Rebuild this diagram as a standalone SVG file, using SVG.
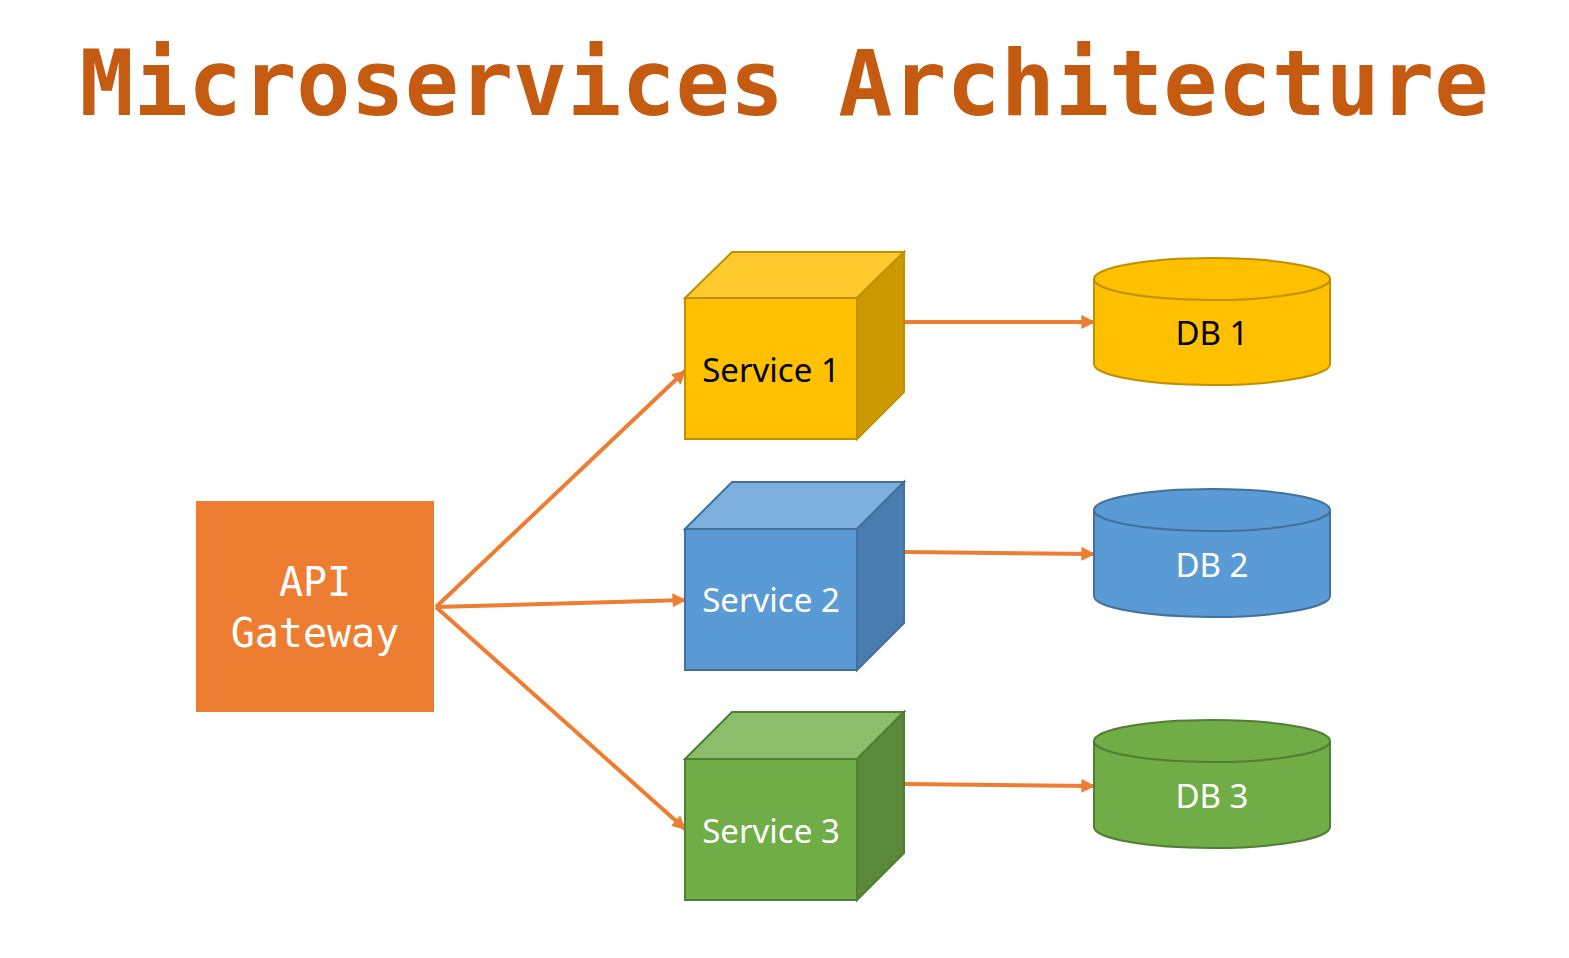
<svg xmlns="http://www.w3.org/2000/svg" width="1569" height="958" viewBox="0 0 1569 958">
<defs>
<style>
.title{font-family:"DejaVu Sans Mono",monospace;font-weight:bold;font-size:90px;fill:#C55A11}
.gw{font-family:"DejaVu Sans Mono",monospace;font-size:40px;fill:#fff}
.lbl{font-family:"Noto Sans","Open Sans",sans-serif;font-size:33px}
.conn{stroke:#ED7D31;stroke-width:4;fill:none;marker-end:url(#ah)}
</style>
<marker id="ah" viewBox="0 0 10 10" refX="9" refY="5" markerWidth="3.5" markerHeight="3.5" orient="auto" markerUnits="strokeWidth">
<path d="M0,0 L10,5 L0,10 z" fill="#ED7D31"/>
</marker>
</defs>
<rect width="1569" height="958" fill="#fff"/>
<text class="title" x="784" y="115" text-anchor="middle">Microservices Architecture</text>

<g id="connectors">
<line class="conn" x1="436" y1="607" x2="685" y2="371"/>
<line class="conn" x1="436" y1="607" x2="685" y2="600"/>
<line class="conn" x1="436" y1="607" x2="685" y2="829"/>
<line class="conn" x1="905" y1="322" x2="1094" y2="322"/>
<line class="conn" x1="905" y1="552" x2="1094" y2="554"/>
<line class="conn" x1="905" y1="784" x2="1094" y2="786"/>
</g>

<g id="api-gateway">
<rect x="196" y="501" width="238" height="211" fill="#ED7D31"/>
<text class="gw" x="315" y="596" text-anchor="middle">API</text>
<text class="gw" x="315" y="647" text-anchor="middle">Gateway</text>
</g>

<g id="service1" stroke="#BF9000" stroke-width="2" stroke-linejoin="miter">
<polygon points="685,298 732,252 904,252 857,298" fill="#FFCA2E"/>
<polygon points="857,298 904,252 904,392 857,439" fill="#CC9A00"/>
<rect x="685" y="298" width="172" height="141" fill="#FFC000"/>
<text class="lbl" x="771" y="382" text-anchor="middle" fill="#000" stroke="none">Service 1</text>
</g>

<g id="service2" stroke="#41719C" stroke-width="2">
<polygon points="685,529 732,482 904,482 857,529" fill="#7CAFDD"/>
<polygon points="857,529 904,482 904,623 857,670" fill="#497DB0"/>
<rect x="685" y="529" width="172" height="141" fill="#5B9BD5"/>
<text class="lbl" x="771" y="612" text-anchor="middle" fill="#fff" stroke="none">Service 2</text>
</g>

<g id="service3" stroke="#507E32" stroke-width="2">
<polygon points="685,759 732,712 904,712 857,759" fill="#8CBD6B"/>
<polygon points="857,759 904,712 904,853 857,900" fill="#5A8A39"/>
<rect x="685" y="759" width="172" height="141" fill="#70AD47"/>
<text class="lbl" x="771" y="843" text-anchor="middle" fill="#fff" stroke="none">Service 3</text>
</g>

<g id="db1" stroke="#BF9000" stroke-width="2">
<path d="M1094,279 V364 A118,21 0 0 0 1330,364 V279" fill="#FFC000"/>
<ellipse cx="1212" cy="279" rx="118" ry="21" fill="#FFC000"/>
<text class="lbl" x="1212" y="345" text-anchor="middle" fill="#000" stroke="none">DB 1</text>
</g>

<g id="db2" stroke="#41719C" stroke-width="2">
<path d="M1094,510 V596 A118,21 0 0 0 1330,596 V510" fill="#5B9BD5"/>
<ellipse cx="1212" cy="510" rx="118" ry="21" fill="#5B9BD5"/>
<text class="lbl" x="1212" y="577" text-anchor="middle" fill="#fff" stroke="none">DB 2</text>
</g>

<g id="db3" stroke="#507E32" stroke-width="2">
<path d="M1094,741 V827 A118,21 0 0 0 1330,827 V741" fill="#70AD47"/>
<ellipse cx="1212" cy="741" rx="118" ry="21" fill="#70AD47"/>
<text class="lbl" x="1212" y="808" text-anchor="middle" fill="#fff" stroke="none">DB 3</text>
</g>
</svg>
